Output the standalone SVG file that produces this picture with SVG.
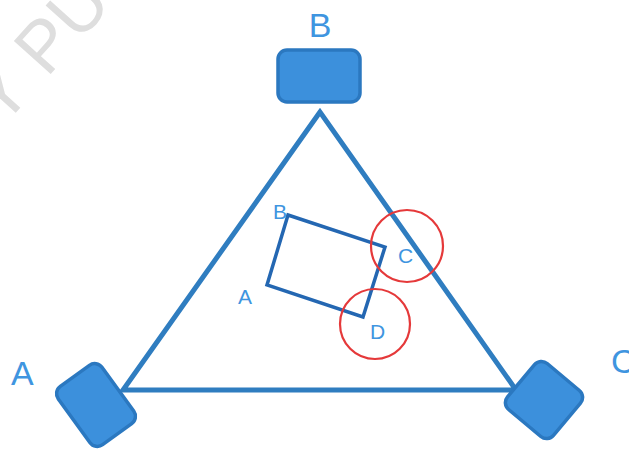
<svg xmlns="http://www.w3.org/2000/svg" width="629" height="450" viewBox="0 0 629 450">
<style>
.lbl{font-family:"Liberation Sans",Arial,sans-serif;fill:#3f95e0}
.big{font-size:34px}
.small{font-size:21px}
.box{fill:#3c90dc;stroke:#2b78c0;stroke-width:3.5}
.edge{fill:none;stroke:#2f7dc0;stroke-width:5;stroke-linejoin:miter}
.inner{fill:none;stroke:#2467b2;stroke-width:3.5}
.ring{fill:none;stroke:#e5393a;stroke-width:2.2}
.wm{font-family:"Liberation Sans",Arial,sans-serif;font-size:72px;fill:#dedede}
</style>
<rect width="629" height="450" fill="#ffffff"/>
<text class="wm" transform="translate(2,128) rotate(-48)">Y PU</text>
<g id="connectors">
<polygon class="edge" points="320,112 123,390 516,390"/>
</g>
<g id="node-B">
<rect class="box" x="278" y="50" width="82" height="52" rx="9"/>
<text class="lbl big" x="320" y="37" text-anchor="middle">B</text>
</g>
<g id="node-A">
<rect class="box" x="-27" y="-36" width="54" height="72" rx="9" transform="translate(96,405) rotate(-36)"/>
<text class="lbl big" x="11" y="385">A</text>
</g>
<g id="node-C">
<rect class="box" x="-30" y="-30" width="60" height="60" rx="9" transform="translate(544,400) rotate(40)"/>
<text class="lbl big" x="611" y="373">C</text>
</g>
<g id="inner-rect">
<polygon class="inner" points="288,215 385,247 363,317 267,285"/>
<text class="lbl small" x="273" y="219">B</text>
<text class="lbl small" x="238" y="304">A</text>
<text class="lbl small" x="398" y="263">C</text>
<text class="lbl small" x="370" y="339">D</text>
</g>
<g id="highlights">
<circle class="ring" cx="407" cy="246" r="36"/>
<circle class="ring" cx="375" cy="324" r="35"/>
</g>
</svg>
